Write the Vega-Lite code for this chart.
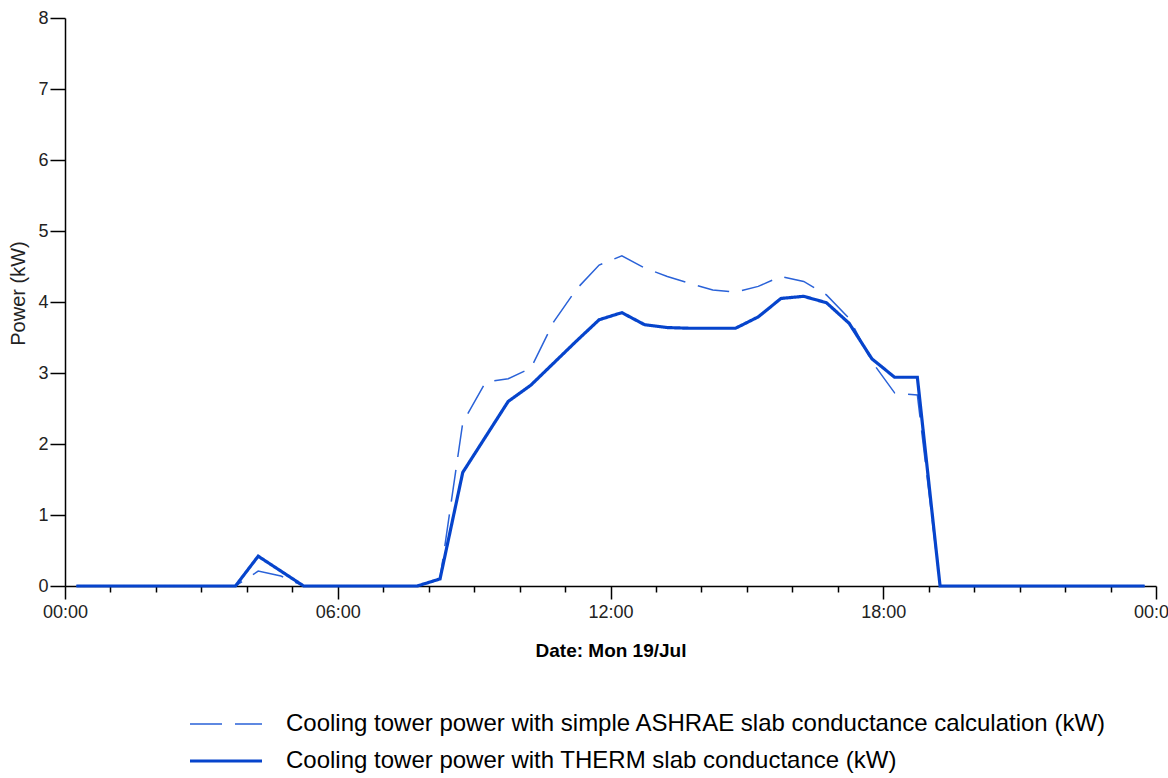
{
  "$schema": "https://vega.github.io/schema/vega-lite/v6.json",
  "autosize": "none",
  "width": 1091,
  "height": 568,
  "padding": {"left": 65, "top": 18, "right": 12, "bottom": 192},
  "background": "white",
  "config": {"view": {"stroke": null}, "font": "Liberation Sans"},
  "data": {
    "values": [
      {"time": "2010-07-19T00:15", "A": 0, "T": 0},
      {"time": "2010-07-19T00:45", "A": 0, "T": 0},
      {"time": "2010-07-19T01:15", "A": 0, "T": 0},
      {"time": "2010-07-19T01:45", "A": 0, "T": 0},
      {"time": "2010-07-19T02:15", "A": 0, "T": 0},
      {"time": "2010-07-19T02:45", "A": 0, "T": 0},
      {"time": "2010-07-19T03:15", "A": 0, "T": 0},
      {"time": "2010-07-19T03:45", "A": 0, "T": 0},
      {"time": "2010-07-19T04:15", "A": 0.21, "T": 0.42},
      {"time": "2010-07-19T04:45", "A": 0.14, "T": 0.21},
      {"time": "2010-07-19T05:15", "A": 0, "T": 0},
      {"time": "2010-07-19T05:45", "A": 0, "T": 0},
      {"time": "2010-07-19T06:15", "A": 0, "T": 0},
      {"time": "2010-07-19T06:45", "A": 0, "T": 0},
      {"time": "2010-07-19T07:15", "A": 0, "T": 0},
      {"time": "2010-07-19T07:45", "A": 0, "T": 0},
      {"time": "2010-07-19T08:15", "A": 0.1, "T": 0.1},
      {"time": "2010-07-19T08:45", "A": 2.3, "T": 1.6},
      {"time": "2010-07-19T09:15", "A": 2.87, "T": 2.1},
      {"time": "2010-07-19T09:45", "A": 2.92, "T": 2.6},
      {"time": "2010-07-19T10:15", "A": 3.07, "T": 2.83},
      {"time": "2010-07-19T10:45", "A": 3.72, "T": 3.14},
      {"time": "2010-07-19T11:15", "A": 4.18, "T": 3.45},
      {"time": "2010-07-19T11:45", "A": 4.52, "T": 3.75},
      {"time": "2010-07-19T12:15", "A": 4.65, "T": 3.85},
      {"time": "2010-07-19T12:45", "A": 4.48, "T": 3.68},
      {"time": "2010-07-19T13:15", "A": 4.36, "T": 3.64},
      {"time": "2010-07-19T13:45", "A": 4.26, "T": 3.63},
      {"time": "2010-07-19T14:15", "A": 4.17, "T": 3.63},
      {"time": "2010-07-19T14:45", "A": 4.14, "T": 3.63},
      {"time": "2010-07-19T15:15", "A": 4.22, "T": 3.79},
      {"time": "2010-07-19T15:45", "A": 4.36, "T": 4.05},
      {"time": "2010-07-19T16:15", "A": 4.29, "T": 4.08},
      {"time": "2010-07-19T16:45", "A": 4.1, "T": 3.99},
      {"time": "2010-07-19T17:15", "A": 3.77, "T": 3.7},
      {"time": "2010-07-19T17:45", "A": 3.16, "T": 3.2},
      {"time": "2010-07-19T18:15", "A": 2.72, "T": 2.94},
      {"time": "2010-07-19T18:45", "A": 2.69, "T": 2.94},
      {"time": "2010-07-19T19:15", "A": 0, "T": 0},
      {"time": "2010-07-19T19:45", "A": 0, "T": 0},
      {"time": "2010-07-19T20:15", "A": 0, "T": 0},
      {"time": "2010-07-19T20:45", "A": 0, "T": 0},
      {"time": "2010-07-19T21:15", "A": 0, "T": 0},
      {"time": "2010-07-19T21:45", "A": 0, "T": 0},
      {"time": "2010-07-19T22:15", "A": 0, "T": 0},
      {"time": "2010-07-19T22:45", "A": 0, "T": 0},
      {"time": "2010-07-19T23:15", "A": 0, "T": 0},
      {"time": "2010-07-19T23:45", "A": 0, "T": 0}
    ]
  },
  "transform": [
    {"fold": ["A", "T"], "as": ["key", "power"]},
    {"lookup": "key", "from": {"data": {"values": [
      {"key": "A", "series": "Cooling tower power with simple ASHRAE slab conductance calculation (kW)"},
      {"key": "T", "series": "Cooling tower power with THERM slab conductance (kW)"}
    ]}, "key": "key", "fields": ["series"]}}
  ],
  "mark": {"type": "line", "interpolate": "linear"},
  "encoding": {
    "x": {
      "field": "time", "type": "temporal",
      "scale": {"domain": [{"year": 2010, "month": 7, "date": 19, "hours": 0}, {"year": 2010, "month": 7, "date": 20, "hours": 0}]},
      "axis": {
        "values": [
          {"year": 2010, "month": 7, "date": 19, "hours": 0}, {"year": 2010, "month": 7, "date": 19, "hours": 1},
          {"year": 2010, "month": 7, "date": 19, "hours": 2}, {"year": 2010, "month": 7, "date": 19, "hours": 3},
          {"year": 2010, "month": 7, "date": 19, "hours": 4}, {"year": 2010, "month": 7, "date": 19, "hours": 5},
          {"year": 2010, "month": 7, "date": 19, "hours": 6}, {"year": 2010, "month": 7, "date": 19, "hours": 7},
          {"year": 2010, "month": 7, "date": 19, "hours": 8}, {"year": 2010, "month": 7, "date": 19, "hours": 9},
          {"year": 2010, "month": 7, "date": 19, "hours": 10}, {"year": 2010, "month": 7, "date": 19, "hours": 11},
          {"year": 2010, "month": 7, "date": 19, "hours": 12}, {"year": 2010, "month": 7, "date": 19, "hours": 13},
          {"year": 2010, "month": 7, "date": 19, "hours": 14}, {"year": 2010, "month": 7, "date": 19, "hours": 15},
          {"year": 2010, "month": 7, "date": 19, "hours": 16}, {"year": 2010, "month": 7, "date": 19, "hours": 17},
          {"year": 2010, "month": 7, "date": 19, "hours": 18}, {"year": 2010, "month": 7, "date": 19, "hours": 19},
          {"year": 2010, "month": 7, "date": 19, "hours": 20}, {"year": 2010, "month": 7, "date": 19, "hours": 21},
          {"year": 2010, "month": 7, "date": 19, "hours": 22}, {"year": 2010, "month": 7, "date": 19, "hours": 23},
          {"year": 2010, "month": 7, "date": 20, "hours": 0}
        ],
        "format": "%H:%M",
        "labelExpr": "hours(datum.value) % 6 === 0 ? datum.label : ''",
        "labelOverlap": false,
        "labelFlush": false,
        "labelBound": false,
        "tickSize": {"condition": {"test": "hours(datum.value) % 6 === 0", "value": 13}, "value": 6},
        "tickWidth": 1.5,
        "tickColor": "black",
        "domainColor": "black",
        "domainWidth": 1.5,
        "grid": false,
        "labelColor": "#222222",
        "labelFontSize": 18,
        "labelPadding": 4,
        "title": "Date: Mon 19/Jul",
        "titleFontSize": 19,
        "titleFontWeight": "bold",
        "titleColor": "black",
        "titlePadding": 20
      }
    },
    "y": {
      "field": "power", "type": "quantitative",
      "scale": {"domain": [0, 8], "nice": false},
      "axis": {
        "values": [0, 0.5, 1, 1.5, 2, 2.5, 3, 3.5, 4, 4.5, 5, 5.5, 6, 6.5, 7, 7.5, 8],
        "format": "d",
        "labelExpr": "datum.value % 1 === 0 ? datum.label : ''",
        "labelOverlap": false,
        "labelFlush": false,
        "tickSize": {"condition": {"test": "datum.value % 1 === 0", "value": 15}, "value": 5},
        "tickWidth": 1.5,
        "tickColor": "black",
        "domainColor": "black",
        "domainWidth": 1.5,
        "grid": false,
        "labelColor": "#222222",
        "labelFontSize": 18,
        "labelPadding": 2,
        "title": "Power (kW)",
        "titleFontSize": 20,
        "titleFontWeight": "normal",
        "titleColor": "#222222",
        "titleX": -47,
        "titleY": 275,
        "titleAngle": -90,
        "titleAlign": "center",
        "titleBaseline": "middle"
      }
    },
    "color": {
      "field": "series", "type": "nominal",
      "scale": {
        "domain": ["Cooling tower power with simple ASHRAE slab conductance calculation (kW)", "Cooling tower power with THERM slab conductance (kW)"],
        "range": ["#2a62d8", "#0644cc"]
      },
      "legend": {
        "orient": "none",
        "legendX": 149,
        "legendY": 694,
        "title": null,
        "padding": 0,
        "symbolType": "M-6,0H6",
        "symbolSize": 144,
        "labelFontSize": 24,
        "labelColor": "black",
        "labelOffset": 48,
        "labelLimit": 0,
        "rowPadding": 13
      }
    },
    "strokeDash": {
      "field": "series", "type": "nominal",
      "scale": {
        "domain": ["Cooling tower power with simple ASHRAE slab conductance calculation (kW)", "Cooling tower power with THERM slab conductance (kW)"],
        "range": [[32, 13], [1, 0]]
      }
    },
    "strokeWidth": {
      "field": "series", "type": "nominal",
      "scale": {
        "domain": ["Cooling tower power with simple ASHRAE slab conductance calculation (kW)", "Cooling tower power with THERM slab conductance (kW)"],
        "range": [1.5, 3.2]
      }
    }
  }
}
